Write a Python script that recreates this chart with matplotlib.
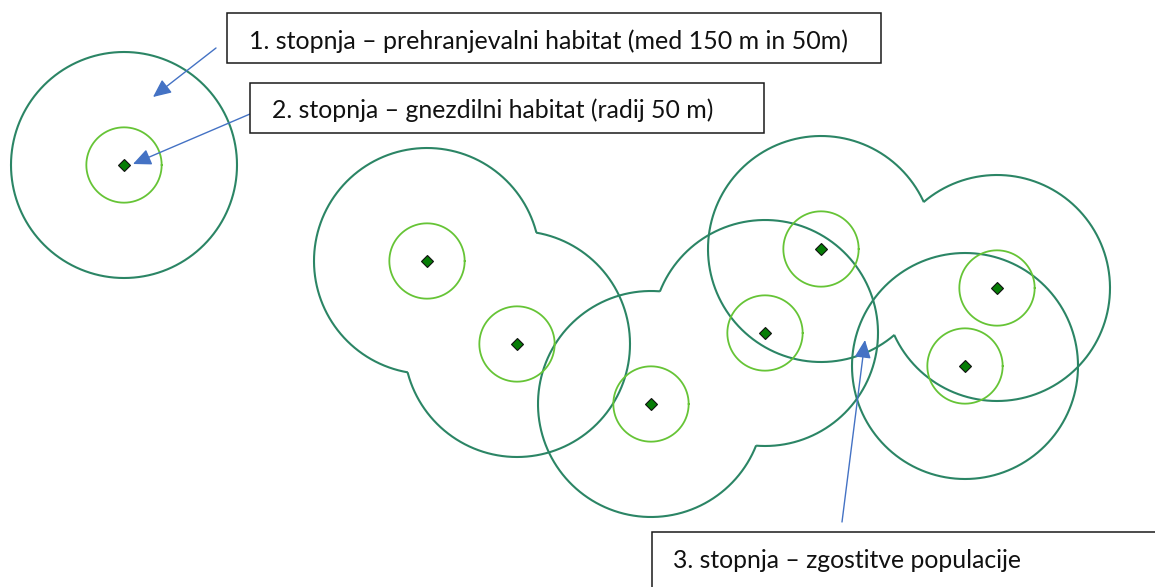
import numpy as np
import matplotlib
matplotlib.use("Agg")
import matplotlib.pyplot as plt
from matplotlib.patches import Rectangle, FancyArrowPatch

# ---- data ----
nest_x = [124, 427, 517, 651, 821, 765, 997, 965]
nest_y = [165, 261, 344, 404, 249, 333, 288, 366]
# dissolved foraging-buffer groups (population concentrations)
nest_group = [0, 1, 1, 2, 3, 2, 3, 4]
outer_radius_m = 150
inner_radius_m = 50
px_per_m = 113 / 150

labels = [
    "1. stopnja \u2013 prehranjevalni habitat (med 150 m in 50m)",
    "2. stopnja \u2013 gnezdilni habitat (radij 50 m)",
    "3. stopnja \u2013 zgostitve populacije",
]

# ---- styles / layout ----
W, H = 1155, 587
OUTER_C = "#2b8565"
INNER_C = "#66c436"
POINT_C = "#067d06"
ARROW_C = "#4472c4"
FONT = "Lato"

fig = plt.figure(figsize=(W / 100, H / 100), dpi=100)
ax = fig.add_axes([0, 0, 1, 1])
ax.set_xlim(0, W)
ax.set_ylim(H, 0)
ax.axis("off")

xs = np.array(nest_x, float)
ys = np.array(nest_y, float)
R = outer_radius_m * px_per_m
r = inner_radius_m * px_per_m

t = np.linspace(0, 2 * np.pi, 1441)
# outer dissolved buffers
for i in range(len(xs)):
    cx = xs[i] + R * np.cos(t)
    cy = ys[i] + R * np.sin(t)
    mask = np.zeros_like(t, bool)
    for j in range(len(xs)):
        if j != i and nest_group[j] == nest_group[i]:
            mask |= np.hypot(cx - xs[j], cy - ys[j]) < R - 0.3
    cx = np.where(mask, np.nan, cx)
    cy = np.where(mask, np.nan, cy)
    ax.plot(cx, cy, color=OUTER_C, lw=1.5, zorder=2, solid_capstyle="butt")

# inner nesting circles
for i in range(len(xs)):
    ax.plot(xs[i] + r * np.cos(t), ys[i] + r * np.sin(t), color=INNER_C, lw=1.3, zorder=3)

ax.plot(xs, ys, linestyle="none", marker="D", markersize=6, markerfacecolor=POINT_C,
        markeredgecolor="#111111", markeredgewidth=0.8, zorder=4)

# arrows
arrows = [((216, 48), (153, 97)), ((250, 114), (133, 164)), ((842, 522), (865, 340))]
for tail, tip in arrows:
    ax.add_patch(FancyArrowPatch(tail, tip, arrowstyle="-|>,head_length=1.1,head_width=0.5",
                                 mutation_scale=10, color=ARROW_C, lw=1.0,
                                 shrinkA=0, shrinkB=0, zorder=5))

# boxes
boxes = [(227, 13, 654, 50), (250, 83, 514, 50), (652, 532, 600, 100)]
for bx, by, bw, bh in boxes:
    ax.add_patch(Rectangle((bx, by), bw, bh, facecolor="white", edgecolor="#1a1a1a",
                           lw=1.1, zorder=6))

# texts, fitted to target widths
text_pos = [(249, 49, 600), (272, 118, 441), (673, 568, 347)]
fig.canvas.draw()
renderer = fig.canvas.get_renderer()
for lab, (tx, ty, tw) in zip(labels, text_pos):
    txt = ax.text(tx, ty, lab, fontsize=18, family=FONT, color="#111111",
                  va="baseline", ha="left", zorder=7)
    w = txt.get_window_extent(renderer).width
    txt.set_fontsize(18 * tw / w)

fig.savefig("out.png", dpi=100)
